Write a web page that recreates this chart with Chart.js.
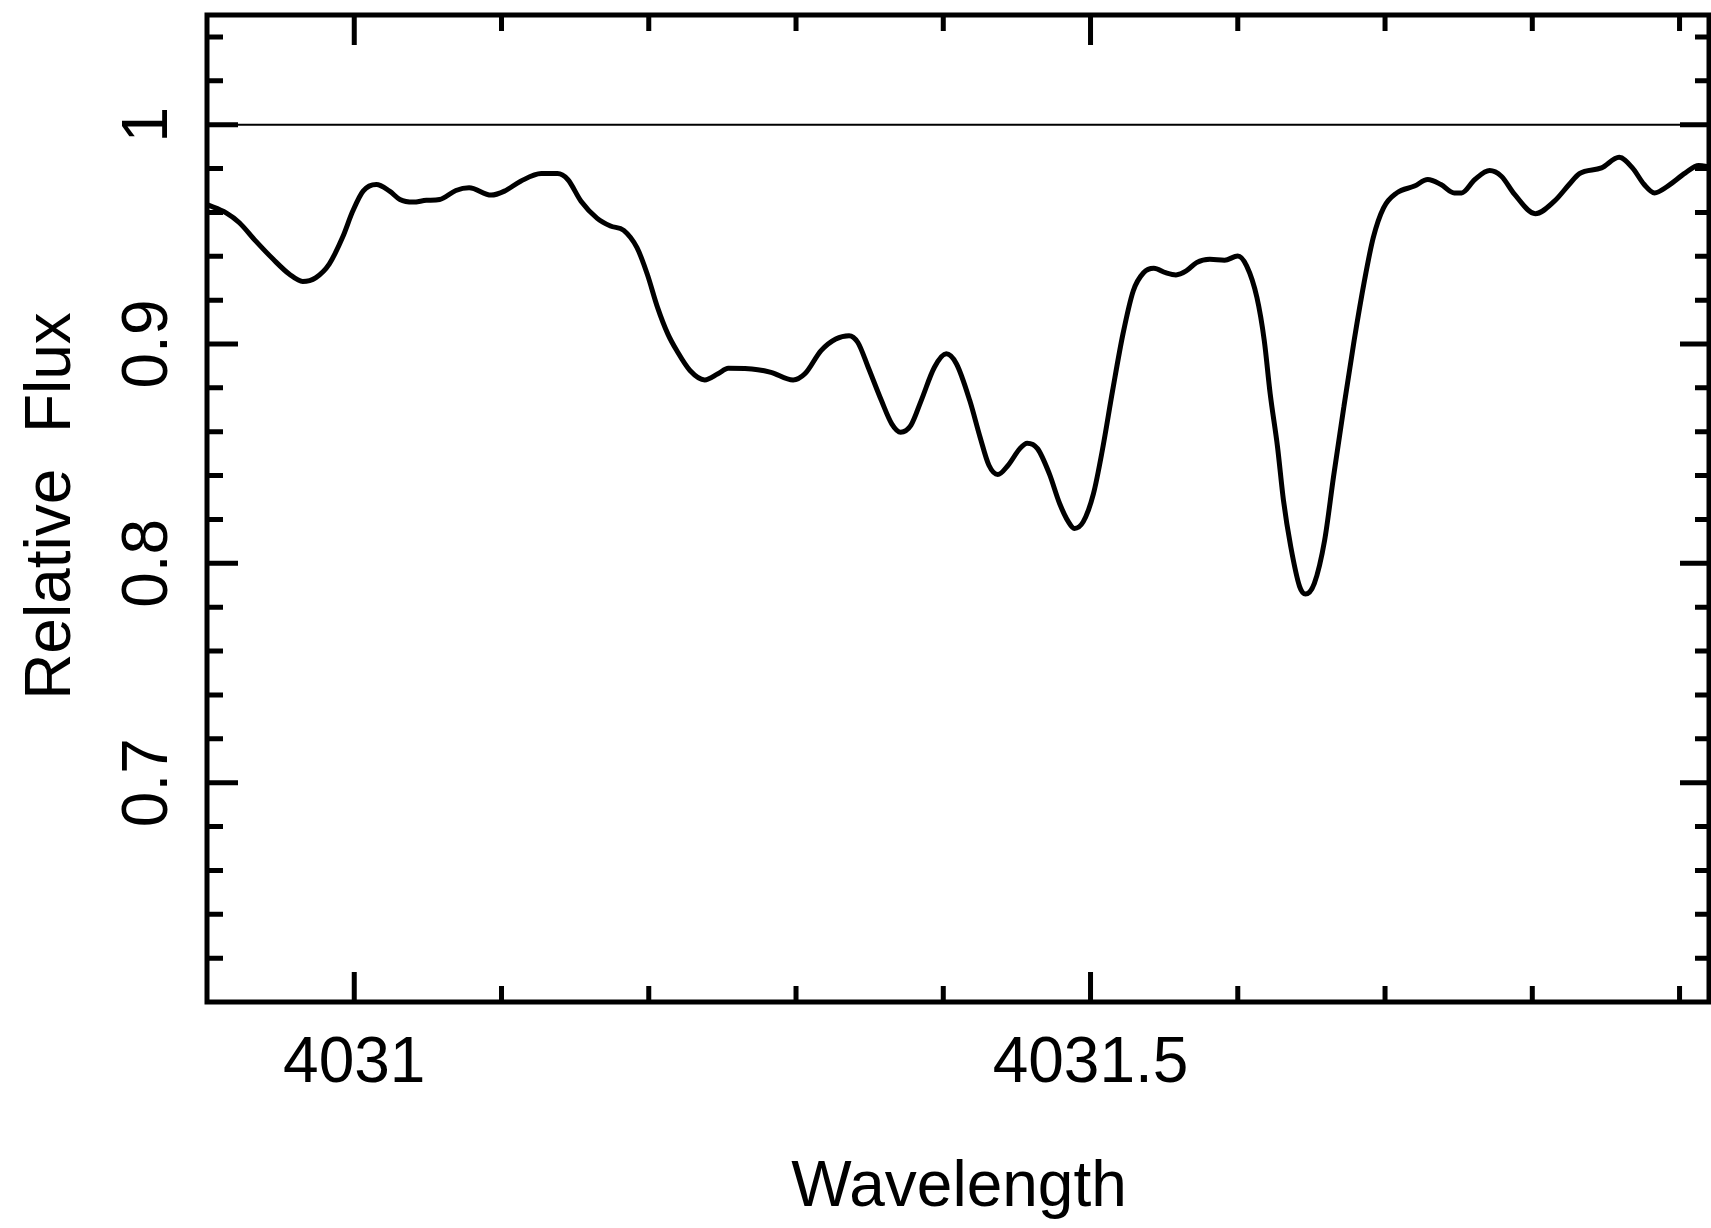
<!DOCTYPE html>
<html>
<head>
<meta charset="utf-8">
<script src="https://cdn.jsdelivr.net/npm/chart.js@4.4.1/dist/chart.umd.min.js"></script>
<style>
  html, body { margin: 0; padding: 0; background: #fff; }
  #wrap { width: 1711px; height: 1228px; position: relative; }
</style>
</head>
<body>
<div id="wrap"><canvas id="spec"></canvas></div>
<script>
// Spectrum (wavelength in A, flux normalised to continuum)
const wavelength = [
  4030.900, 4030.913, 4030.922, 4030.933, 4030.945, 4030.956, 4030.965, 4030.974, 4030.983, 4030.992,
  4030.999, 4031.006, 4031.015, 4031.024, 4031.031, 4031.040, 4031.049, 4031.058, 4031.069, 4031.078,
  4031.093, 4031.102, 4031.113, 4031.127, 4031.138, 4031.145, 4031.154, 4031.165, 4031.174, 4031.183,
  4031.192, 4031.199, 4031.206, 4031.213, 4031.219, 4031.228, 4031.238, 4031.247, 4031.254, 4031.274,
  4031.283, 4031.298, 4031.306, 4031.317, 4031.327, 4031.336, 4031.342, 4031.349, 4031.358, 4031.365,
  4031.371, 4031.378, 4031.385, 4031.394, 4031.402, 4031.409, 4031.418, 4031.425, 4031.431, 4031.437,
  4031.444, 4031.452, 4031.457, 4031.464, 4031.472, 4031.479, 4031.485, 4031.489, 4031.495, 4031.502,
  4031.508, 4031.515, 4031.522, 4031.529, 4031.536, 4031.543, 4031.551, 4031.558, 4031.565, 4031.572,
  4031.581, 4031.591, 4031.600, 4031.606, 4031.613, 4031.618, 4031.622, 4031.627, 4031.631, 4031.636,
  4031.642, 4031.646, 4031.652, 4031.659, 4031.665, 4031.672, 4031.679, 4031.686, 4031.692, 4031.699,
  4031.708, 4031.720, 4031.729, 4031.738, 4031.747, 4031.752, 4031.761, 4031.771, 4031.779, 4031.788,
  4031.802, 4031.815, 4031.825, 4031.832, 4031.847, 4031.859, 4031.868, 4031.876, 4031.883, 4031.892,
  4031.904, 4031.913, 4031.921
];
const flux = [
  0.9636, 0.9598, 0.9553, 0.9470, 0.9386, 0.9318, 0.9285, 0.9303, 0.9364, 0.9485,
  0.9606, 0.9697, 0.9727, 0.9697, 0.9659, 0.9647, 0.9655, 0.9659, 0.9700, 0.9712,
  0.9679, 0.9697, 0.9742, 0.9777, 0.9777, 0.9750, 0.9651, 0.9573, 0.9538, 0.9518,
  0.9439, 0.9318, 0.9166, 0.9045, 0.8970, 0.8879, 0.8836, 0.8864, 0.8889, 0.8883,
  0.8871, 0.8836, 0.8864, 0.8970, 0.9023, 0.9038, 0.9007, 0.8894, 0.8742, 0.8636,
  0.8598, 0.8629, 0.8742, 0.8894, 0.8955, 0.8909, 0.8742, 0.8575, 0.8447, 0.8405,
  0.8447, 0.8523, 0.8548, 0.8523, 0.8409, 0.8273, 0.8189, 0.8159, 0.8189, 0.8318,
  0.8515, 0.8788, 0.9045, 0.9242, 0.9325, 0.9345, 0.9325, 0.9315, 0.9333, 0.9371,
  0.9386, 0.9382, 0.9401, 0.9356, 0.9212, 0.9015, 0.8773, 0.8530, 0.8288, 0.8075,
  0.7894, 0.7860, 0.7909, 0.8106, 0.8394, 0.8712, 0.9015, 0.9288, 0.9485, 0.9621,
  0.9689, 0.9720, 0.9750, 0.9727, 0.9689, 0.9689, 0.9750, 0.9791, 0.9765, 0.9682,
  0.9594, 0.9651, 0.9727, 0.9777, 0.9803, 0.9851, 0.9803, 0.9727, 0.9689, 0.9720,
  0.9780, 0.9814, 0.9806
];
const continuum = 1;

const xRange = [4030.9, 4031.92];
const yRange = [0.6, 1.05];
const xLabelTicks = [4031, 4031.5];
const yLabelTicks = [0.7, 0.8, 0.9, 1];
const xMinorStep = 0.1;
const yMinorStep = 0.02;

const FONT = '64px "Liberation Sans", Arial, sans-serif';

function yLabel(v) {
  return v === 1 ? '1' : v.toFixed(1);
}

// PGPLOT-style box: frame, inward ticks on all four sides, labels
const framePlugin = {
  id: 'frame',
  afterDraw(chart) {
    const { ctx, chartArea: a, scales: { x, y } } = chart;
    ctx.save();
    ctx.strokeStyle = '#000';
    ctx.fillStyle = '#000';
    ctx.lineCap = 'butt';

    ctx.lineWidth = 5;
    ctx.strokeRect(a.left, a.top, a.right - a.left, a.bottom - a.top);

    // x ticks
    const nX = Math.round((xRange[1] - xRange[0]) / xMinorStep);
    for (let i = 1; i <= nX; i++) {
      const v = xRange[0] + i * xMinorStep;
      const major = xLabelTicks.some(t => Math.abs(t - v) < 1e-6);
      const len = major ? 30 : 16;
      const px = x.getPixelForValue(v);
      if (px >= a.right - 2) continue;
      ctx.beginPath();
      ctx.moveTo(px, a.bottom); ctx.lineTo(px, a.bottom - len);
      ctx.moveTo(px, a.top); ctx.lineTo(px, a.top + len);
      ctx.stroke();
    }

    // y ticks
    const nY = Math.round((yRange[1] - yRange[0]) / yMinorStep);
    for (let i = 1; i <= nY; i++) {
      const v = yRange[0] + i * yMinorStep;
      const major = yLabelTicks.some(t => Math.abs(t - v) < 1e-6);
      const len = major ? 31 : 16;
      const py = y.getPixelForValue(v);
      if (py <= a.top + 2) continue;
      ctx.beginPath();
      ctx.moveTo(a.left, py); ctx.lineTo(a.left + len, py);
      ctx.moveTo(a.right, py); ctx.lineTo(a.right - len + 2, py);
      ctx.stroke();
    }

    ctx.font = FONT;
    ctx.textAlign = 'center';
    ctx.textBaseline = 'alphabetic';
    xLabelTicks.forEach(v => {
      ctx.fillText(String(v), x.getPixelForValue(v), 1082);
    });

    yLabelTicks.forEach(v => {
      ctx.save();
      ctx.translate(167, y.getPixelForValue(v));
      ctx.rotate(-Math.PI / 2);
      ctx.fillText(yLabel(v), 0, 0);
      ctx.restore();
    });

    ctx.fillText('Wavelength', 959, 1206);

    ctx.save();
    ctx.translate(70, 506);
    ctx.rotate(-Math.PI / 2);
    ctx.fillText('Relative  Flux', 0, 0);
    ctx.restore();

    ctx.restore();
  }
};

new Chart(document.getElementById('spec'), {
  type: 'line',
  data: {
    datasets: [
      {
        data: wavelength.map((w, i) => ({ x: w, y: flux[i] })),
        borderColor: '#000',
        borderWidth: 5,
        pointRadius: 0,
        cubicInterpolationMode: 'monotone',
        fill: false,
      },
      {
        data: [{ x: xRange[0], y: continuum }, { x: xRange[1], y: continuum }],
        borderColor: '#000',
        borderWidth: 2,
        pointRadius: 0,
        fill: false,
      },
    ],
  },
  options: {
    responsive: true,
    maintainAspectRatio: false,
    animation: false,
    events: [],
    layout: { padding: { left: 207, right: 2, top: 15, bottom: 226 } },
    scales: {
      x: { type: 'linear', min: xRange[0], max: xRange[1], display: false },
      y: { type: 'linear', min: yRange[0], max: yRange[1], display: false },
    },
    plugins: {
      legend: { display: false },
      tooltip: { enabled: false },
    },
  },
  plugins: [framePlugin],
});
</script>
</body>
</html>
